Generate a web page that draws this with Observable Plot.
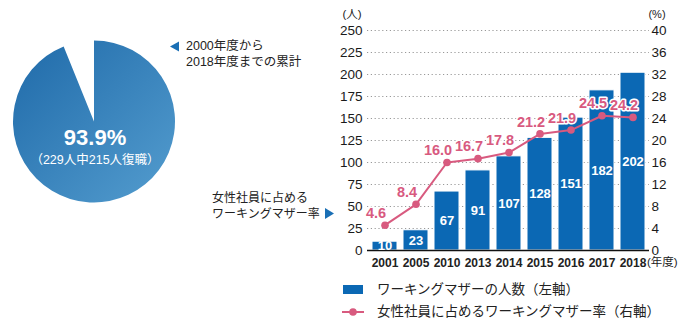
<!DOCTYPE html>
<html><head><meta charset="utf-8">
<script src="https://cdn.jsdelivr.net/npm/d3@7"></script>
<script src="https://cdn.jsdelivr.net/npm/@observablehq/plot@0.6"></script>
<style>
html,body{margin:0;padding:0;background:#fff;}
#chart{position:relative;width:690px;height:323px;}
</style></head>
<body><div id="chart"></div>
<script>
const years = ["2001","2005","2010","2013","2014","2015","2016","2017","2018"];
const mothers = [10,23,67,91,107,128,151,182,202];
const rates = [4.6,8.4,16.0,16.7,17.8,21.2,21.9,24.5,24.2];
const leftTicks = [0,25,50,75,100,125,150,175,200,225,250];
const rightTicks = [0,4,8,12,16,20,24,28,32,36,40];
const pieValues = [215, 14];
const pieLabels = ["93.9%", "（229人中215人復職）"];
const noteText = ["2000年度から", "2018年度までの累計"];
const rateNote = ["女性社員に占める", "ワーキングマザー率"];
const legendLabels = ["ワーキングマザーの人数（左軸）", "女性社員に占めるワーキングマザー率（右軸）"];

const BLUE = "#0b68b4", PINK = "#d85a7f";
const FONT = "'Liberation Sans','Noto Sans CJK JP',sans-serif";
const K = 250 / 40;
const data = years.map((y, i) => ({year: y, n: mothers[i], r: rates[i]}));

const chart = Plot.plot({
  width: 690, height: 323,
  marginLeft: 367, marginRight: 41, marginTop: 30, marginBottom: 73,
  style: {fontFamily: FONT, fontSize: "13.5px", color: "#1a1a1a", background: "#fff"},
  x: {type: "band", domain: years, paddingInner: 0.2, paddingOuter: 0.1, axis: null},
  y: {domain: [0, 250], axis: null},
  marks: [
    Plot.ruleY(leftTicks.filter(d => d > 0), {stroke: "#999", strokeDasharray: "1.2,2.6", strokeWidth: 1}),
    Plot.barY(data, {x: "year", y: "n", fill: BLUE, stroke: "#fff", strokeWidth: 1}),
    Plot.ruleY([0], {stroke: "#111", strokeWidth: 1.5}),
    Plot.text(data, {x: "year", y: d => d.n / 2, text: d => String(d.n), fill: "#fff", fontWeight: "bold", fontSize: 13, letterSpacing: "-0.3px"}),
    Plot.line(data, {x: "year", y: d => d.r * K, stroke: PINK, strokeWidth: 2}),
    Plot.dot(data, {x: "year", y: d => d.r * K, fill: PINK, r: 3.8}),
    Plot.text(data, {x: "year", y: d => d.r * K, text: d => d.r.toFixed(1), fill: PINK, stroke: "#fff", strokeWidth: 3, fontWeight: "bold", fontSize: 14.5, dx: -9, dy: -12}),
    Plot.axisY(leftTicks, {anchor: "left", tickSize: 0, tickPadding: 5, label: null, fontSize: 13.5}),
    Plot.axisY(rightTicks.map(t => t * K), {anchor: "right", tickSize: 0, tickPadding: 2, label: null, tickFormat: d => String(Math.round(d / K)), fontSize: 13.5}),
    Plot.axisX({tickSize: 0, tickPadding: 8, label: null, fontWeight: "bold", fontSize: 12, fill: "#222"})
  ]
});
document.getElementById("chart").appendChild(chart);

const svg = d3.select(chart);
const g = svg.append("g").attr("font-family", FONT).attr("text-anchor", "start");

// axis unit labels
g.append("text").attr("x", 352).attr("y", 15).attr("text-anchor", "middle").attr("dominant-baseline", "middle").attr("font-size", 11.5).attr("fill", "#222").text("(人)");
g.append("text").attr("x", 657).attr("y", 15).attr("text-anchor", "middle").attr("dominant-baseline", "middle").attr("font-size", 11).attr("fill", "#222").text("(%)");
g.append("text").attr("x", 647).attr("y", 263).attr("dominant-baseline", "middle").attr("font-size", 11.5).attr("fill", "#222").text("(年度)");

// pie
const defs = svg.append("defs");
const grad = defs.append("linearGradient").attr("id", "pieGrad").attr("x1", "0%").attr("y1", "0%").attr("x2", "100%").attr("y2", "100%");
grad.append("stop").attr("offset", "0%").attr("stop-color", "#1f6aa9");
grad.append("stop").attr("offset", "100%").attr("stop-color", "#549dcf");
const arcs = d3.pie().sort(null)(pieValues);
const arc = d3.arc().innerRadius(0).outerRadius(81);
const pg = g.append("g").attr("transform", "translate(94,121.5)");
pg.append("path").attr("d", arc(arcs[0])).attr("fill", "url(#pieGrad)");
pg.append("text").attr("x", 1).attr("y", 18).attr("text-anchor", "middle").attr("dominant-baseline", "middle").attr("fill", "#fff").attr("font-weight", "bold").attr("font-size", 22).text(pieLabels[0]);
pg.append("text").attr("x", 1).attr("y", 39.5).attr("text-anchor", "middle").attr("dominant-baseline", "middle").attr("fill", "#fff").attr("font-size", 12.5).text(pieLabels[1]);

// pie annotation
g.append("path").attr("d", "M170,46.5 L179,41.5 L179,51.5 Z").attr("fill", "#1a6fb5");
noteText.forEach((t, i) => g.append("text").attr("x", 186).attr("y", 47 + i * 16).attr("dominant-baseline", "middle").attr("font-size", 12.5).attr("fill", "#222").text(t));

// rate annotation
rateNote.forEach((t, i) => g.append("text").attr("x", 212).attr("y", 199 + i * 15.5).attr("dominant-baseline", "middle").attr("font-size", 12).attr("fill", "#222").text(t));
g.append("path").attr("d", "M325,208 L334,213.5 L325,219 Z").attr("fill", "#1a6fb5");

// legend
g.append("rect").attr("x", 343).attr("y", 285).attr("width", 20).attr("height", 9).attr("fill", BLUE);
g.append("line").attr("x1", 342).attr("x2", 364).attr("y1", 312).attr("y2", 312).attr("stroke", PINK).attr("stroke-width", 2);
g.append("circle").attr("cx", 353).attr("cy", 312).attr("r", 3.8).attr("fill", PINK);
legendLabels.forEach((t, i) => g.append("text").attr("x", 377).attr("y", 290 + i * 22).attr("dominant-baseline", "middle").attr("font-size", 13.5).attr("fill", "#222").text(t));
</script></body></html>
